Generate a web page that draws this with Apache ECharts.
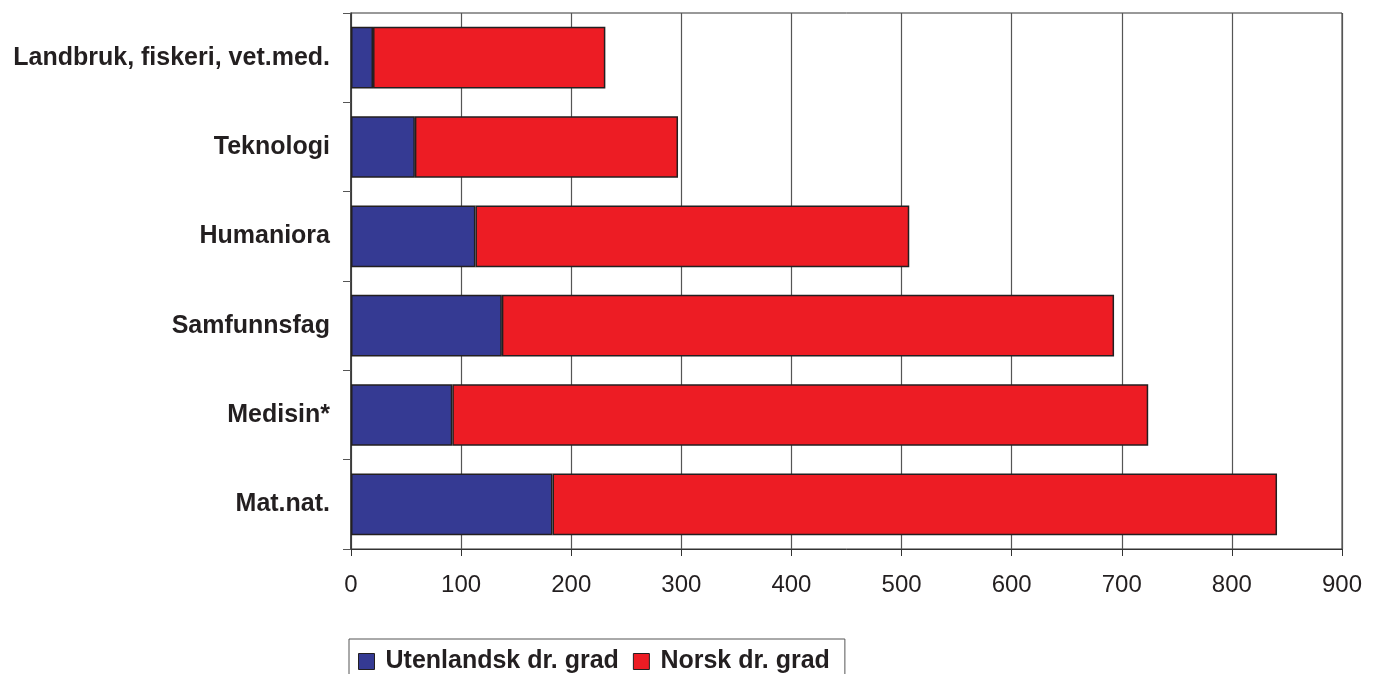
<!DOCTYPE html>
<html>
<head>
<meta charset="utf-8">
<script src="https://cdn.jsdelivr.net/npm/echarts@6/dist/echarts.min.js"></script>
<style>html,body{margin:0;padding:0;background:#fff;}#c{width:1376px;height:674px;}</style>
</head>
<body>
<div id="c"></div>
<script>
var categories = ["Landbruk, fiskeri, vet.med.", "Teknologi", "Humaniora", "Samfunnsfag", "Medisin*", "Mat.nat."];
var utenlandsk = [20, 58, 113, 137, 92, 183];
var norsk = [211, 239, 394, 556, 632, 658];
var seriesNames = ["Utenlandsk dr. grad", "Norsk dr. grad"];

var chart = echarts.init(document.getElementById('c'), null, {renderer: 'canvas'});
chart.setOption({
  animation: false,
  backgroundColor: '#fff',
  textStyle: {fontFamily: 'Liberation Sans, Arial, sans-serif'},
  grid: {left: 351, right: 34, top: 13, bottom: 125, show: true, borderColor: '#333', borderWidth: 1},
  legend: {
    data: seriesNames,
    left: 349, top: 639,
    orient: 'horizontal',
    icon: 'rect',
    itemWidth: 16, itemHeight: 16, itemGap: 14,
    padding: [10, 15, 14, 9],
    borderColor: '#555', borderWidth: 1,
    textStyle: {fontSize: 25, fontWeight: 'bold', color: '#231f20', padding: [0, 0, 0, 6]},
    itemStyle: {borderColor: '#231f20', borderWidth: 1}
  },
  xAxis: {
    type: 'value', min: 0, max: 900, interval: 100,
    axisLine: {show: true, lineStyle: {color: '#333', width: 1}},
    axisTick: {show: true, length: 7, lineStyle: {color: '#333'}},
    axisLabel: {fontSize: 24, color: '#231f20', margin: 24},
    splitLine: {show: true, lineStyle: {color: '#555', width: 1.2}}
  },
  yAxis: {
    type: 'category', data: categories, inverse: true,
    axisLine: {show: true, lineStyle: {color: '#333', width: 1.5}},
    axisTick: {show: true, length: 8, lineStyle: {color: '#555'}},
    axisLabel: {fontSize: 25, fontWeight: 'bold', color: '#231f20', margin: 21}
  },
  series: [
    {name: seriesNames[0], type: 'bar', stack: 'a', data: utenlandsk, barCategoryGap: '31%',
     itemStyle: {color: '#353a93', borderColor: '#231f20', borderWidth: 1.5}},
    {name: seriesNames[1], type: 'bar', stack: 'a', data: norsk, barCategoryGap: '31%',
     itemStyle: {color: '#ed1c24', borderColor: '#231f20', borderWidth: 1.5}}
  ]
});
</script>
</body>
</html>
